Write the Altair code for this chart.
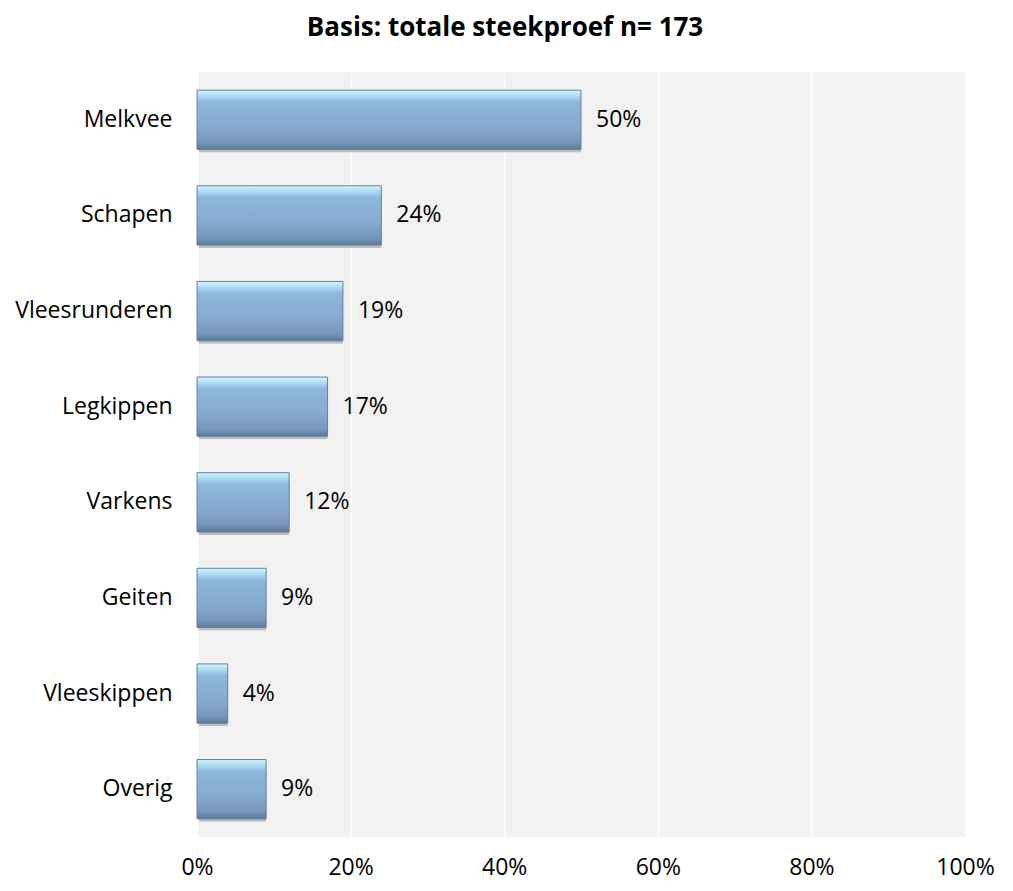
import altair as alt
import pandas as pd

categories = ["Melkvee", "Schapen", "Vleesrunderen", "Legkippen", "Varkens", "Geiten", "Vleeskippen", "Overig"]
values = [50, 24, 19, 17, 12, 9, 4, 9]
title_text = "Basis: totale steekproef n= 173"

df = pd.DataFrame({"cat": categories, "val": values})
df["label"] = df["val"].astype(str) + "%"

FONT = "Open Sans"
FS = 23

x_enc = alt.X("val:Q", scale=alt.Scale(domain=[0, 100], nice=False),
              axis=alt.Axis(values=[0, 20, 40, 60, 80, 100], labelExpr="datum.value + '%'",
                            title=None, domain=False, ticks=False, labelPadding=19,
                            labelFontSize=FS, labelFont=FONT, labelColor="#000000",
                            grid=True, gridColor="#ffffff", gridWidth=1.5, labelFlush=False))
y_enc = alt.Y("cat:N", sort=categories,
              scale=alt.Scale(paddingInner=0.38, paddingOuter=0.19),
              axis=alt.Axis(title=None, domain=False, ticks=False, labelPadding=25,
                            labelFontSize=FS, labelFont=FONT, labelColor="#000000",
                            grid=False, minExtent=189, maxExtent=189))

base = alt.Chart(df)

shadow = base.mark_bar(color="#7a7a7a", opacity=0.45, xOffset=2, yOffset=3, cornerRadius=1).encode(
    x=x_enc, y=y_enc)

grad = alt.Gradient(
    gradient="linear",
    stops=[
        alt.GradientStop(color="#d2f4ff", offset=0),
        alt.GradientStop(color="#acdcf4", offset=0.1),
        alt.GradientStop(color="#8fb6dc", offset=0.2),
        alt.GradientStop(color="#87abd0", offset=0.6),
        alt.GradientStop(color="#7696ba", offset=0.88),
        alt.GradientStop(color="#5a7897", offset=1),
    ],
    x1=0, x2=0, y1=0, y2=1,
)

bars = base.mark_bar(color=grad, stroke="#64829f", strokeWidth=1).encode(x=x_enc, y=y_enc)

labels = base.mark_text(align="left", baseline="middle", dx=15, fontSize=FS, font=FONT, color="#000000").encode(
    x="val:Q", y=alt.Y("cat:N", sort=categories), text="label:N")

chart = alt.layer(shadow, bars, labels).properties(
    width=768, height=765,
    padding={"left": 0, "top": 7, "right": 5, "bottom": 5},
    title=alt.TitleParams(title_text, fontSize=26, font=FONT, fontWeight="bold", color="#000000",
                          dx=-76, offset=31),
    background="#ffffff",
).configure_view(fill="#f2f2f2", stroke=None)

chart.save("out.html", embed_options={"renderer": "svg", "actions": False})
